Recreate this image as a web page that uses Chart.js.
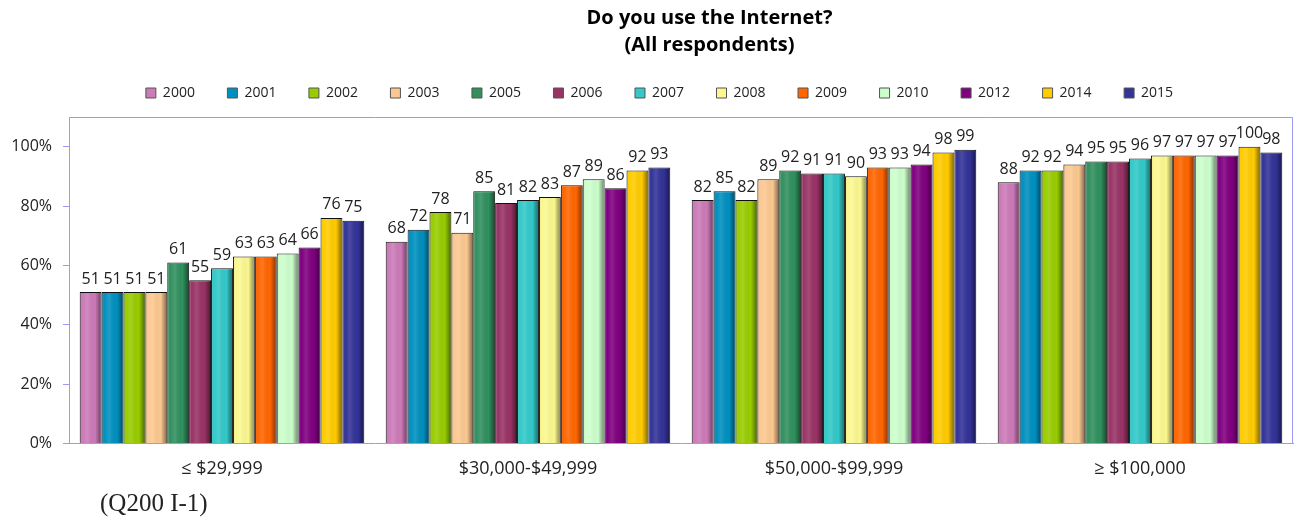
<!DOCTYPE html>
<html>
<head>
<meta charset="utf-8">
<script src="https://cdn.jsdelivr.net/npm/chart.js@4.4.1/dist/chart.umd.min.js"></script>
<style>
  html, body { margin: 0; padding: 0; background: #fff; }
  #wrap { position: relative; width: 1297px; height: 519px; }
  #foot { position: absolute; left: 100px; top: 488px; font-family: "Liberation Serif", serif; font-size: 25px; line-height: 30px; color: #222; }
</style>
</head>
<body>
<div id="wrap">
  <canvas id="c" width="1297" height="519"></canvas>
  <div id="foot">(Q200 I-1)</div>
</div>
<script>
const categories = ["≤ $29,999", "$30,000-$49,999", "$50,000-$99,999", "≥ $100,000"];
const years = ["2000","2001","2002","2003","2005","2006","2007","2008","2009","2010","2012","2014","2015"];
const v2000 = [51, 68, 82, 88];
const v2001 = [51, 72, 85, 92];
const v2002 = [51, 78, 82, 92];
const v2003 = [51, 71, 89, 94];
const v2005 = [61, 85, 92, 95];
const v2006 = [55, 81, 91, 95];
const v2007 = [59, 82, 91, 96];
const v2008 = [63, 83, 90, 97];
const v2009 = [63, 87, 93, 97];
const v2010 = [64, 89, 93, 97];
const v2012 = [66, 86, 94, 97];
const v2014 = [76, 92, 98, 100];
const v2015 = [75, 93, 99, 98];
const seriesValues = [v2000, v2001, v2002, v2003, v2005, v2006, v2007, v2008, v2009, v2010, v2012, v2014, v2015];
const colors = ["#cc7ab8","#0090c0","#99cc00","#fcc890","#30905e","#993366","#33c9c9","#fbf88f","#ff6600","#ccffcc","#800080","#ffcc00","#333399"];
const yTicks = [0, 20, 40, 60, 80, 100];

const FONT = "'Open Sans', sans-serif";

const datasets = years.map((y, i) => ({
  label: y,
  data: seriesValues[i],
  backgroundColor: colors[i],
  borderColor: "#111",
  borderWidth: 1,
  borderSkipped: "bottom"
}));

const layoutTweak = {
  id: "layoutTweak",
  beforeLayout(chart) {
    const lg = chart.legend;
    if (lg && !lg._padPatched) {
      const f = lg.fit.bind(lg);
      lg.fit = function () { f(); this.height += 7; };
      lg._padPatched = true;
    }
  },
  afterLayout(chart) {
    if (chart.titleBlock) { chart.titleBlock.left += 63; chart.titleBlock.right += 63; }
    if (chart.legend) { chart.legend.left += 13; chart.legend.right += 13; }
  }
};

const shadePlugin = {
  id: "shade",
  afterDatasetsDraw(chart) {
    const ctx = chart.ctx;
    chart.data.datasets.forEach((ds, di) => {
      const meta = chart.getDatasetMeta(di);
      meta.data.forEach(bar => {
        const w = bar.width, left = bar.x - w / 2, top = bar.y, h = bar.base - bar.y;
        const g = ctx.createLinearGradient(left, 0, left + w, 0);
        g.addColorStop(0, "rgba(0,0,0,0.22)");
        g.addColorStop(0.12, "rgba(255,255,255,0.0)");
        g.addColorStop(0.35, "rgba(255,255,255,0.12)");
        g.addColorStop(0.7, "rgba(0,0,0,0.0)");
        g.addColorStop(1, "rgba(0,0,0,0.5)");
        ctx.save();
        ctx.fillStyle = g;
        ctx.fillRect(left + 1, top + 1, w - 2, h - 1);
        ctx.restore();
      });
    });
  }
};

const labelPlugin = {
  id: "valLabels",
  afterDatasetsDraw(chart) {
    const ctx = chart.ctx;
    ctx.save();
    ctx.font = "16px " + FONT;
    ctx.fillStyle = "#222";
    ctx.textAlign = "center";
    ctx.textBaseline = "bottom";
    chart.data.datasets.forEach((ds, di) => {
      const meta = chart.getDatasetMeta(di);
      meta.data.forEach((bar, i) => {
        ctx.fillText(String(ds.data[i]), bar.x, bar.y - 5);
      });
    });
    ctx.restore();
  }
};

const framePlugin = {
  id: "frame",
  afterDraw(chart) {
    const a = chart.chartArea, ctx = chart.ctx;
    ctx.save();
    ctx.strokeStyle = "#9a9af5";
    ctx.lineWidth = 1;
    ctx.beginPath();
    ctx.moveTo(a.left + 0.5, a.top + 0.5);
    ctx.lineTo(a.right - 0.5, a.top + 0.5);
    ctx.lineTo(a.right - 0.5, a.bottom);
    ctx.stroke();
    ctx.restore();
  }
};

new Chart(document.getElementById("c"), {
  type: "bar",
  data: { labels: categories, datasets },
  plugins: [layoutTweak, shadePlugin, labelPlugin, framePlugin],
  options: {
    responsive: false,
    animation: false,
    layout: { padding: { left: 0, right: 4, top: 0, bottom: 32 } },
    datasets: { bar: { categoryPercentage: 0.93, barPercentage: 1.0 } },
    plugins: {
      title: {
        display: true,
        text: ["Do you use the Internet?", "(All respondents)"],
        font: { family: FONT, size: 20, weight: "bold", lineHeight: 1.35 },
        color: "#000",
        padding: { top: 5, bottom: -5.5 }
      },
      legend: {
        position: "top",
        labels: {
          font: { family: FONT, size: 14 },
          color: "#222",
          boxWidth: 10,
          boxHeight: 10,
          padding: 32.5,
          generateLabels(chart) {
            return chart.data.datasets.map((ds, i) => ({
              text: ds.label,
              fillStyle: ds.backgroundColor,
              strokeStyle: "#555",
              lineWidth: 1,
              datasetIndex: i,
              hidden: false,
              fontColor: "#222"
            }));
          }
        }
      },
      tooltip: { enabled: false }
    },
    scales: {
      x: {
        grid: { display: false },
        border: { display: true, color: "#9a9af5", width: 1 },
        ticks: { font: { family: FONT, size: 18 }, color: "#222", padding: 7 }
      },
      y: {
        min: 0,
        max: 110,
        afterBuildTicks(scale) { scale.ticks = yTicks.map(v => ({ value: v })); },
        afterFit(scale) { scale.width = 69; },
        grid: { drawOnChartArea: false, drawTicks: true, tickLength: 6, color: "#9a9af5" },
        border: { display: true, color: "#9a9af5", width: 1 },
        ticks: { font: { family: FONT, size: 16 }, color: "#222", padding: 11, callback: v => v + "%" }
      }
    }
  }
});
</script>
</body>
</html>
